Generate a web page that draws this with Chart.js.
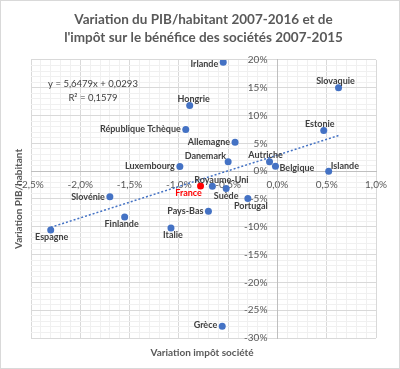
<!DOCTYPE html>
<html>
<head>
<meta charset="utf-8">
<script src="https://cdn.jsdelivr.net/npm/chart.js@4"></script>
<style>
  body { margin: 0; background: #fff; }
  canvas { display: block; }
</style>
</head>
<body>
<canvas id="chart" width="400" height="369"></canvas>
<script>
// pays, variation impot societe (%) et variation PIB/habitant (%)
const pays = ['Irlande', 'Slovaquie', 'Hongrie', 'République Tchèque', 'Estonie', 'Allemagne',
  'Danemark', 'Luxembourg', 'Autriche', 'Belgique', 'Islande', 'France', 'Royaume-Uni', 'Suède',
  'Portugal', 'Pays-Bas', 'Slovénie', 'Finlande', 'Italie', 'Espagne', 'Grèce'];
const impot = [-0.55, 0.62, -0.89, -0.93, 0.47, -0.43, -0.50, -0.99, -0.08, -0.02, 0.52, -0.78,
  -0.66, -0.52, -0.30, -0.70, -1.70, -1.55, -1.08, -2.30, -0.56];
const pib = [19.6, 15.0, 11.8, 7.5, 7.3, 5.2, 1.7, 0.85, 1.7, 0.9, 0.0, -2.65, -2.7, -3.1, -4.9,
  -7.2, -4.6, -8.25, -10.2, -10.6, -27.9];

// courbe de tendance
const trendX = [-2.30, 0.62];
const trendY = [-10.1, 6.4];
const equation = ['y = 5,6479x + 0,0293', 'R² = 0,1579'];

// where each label sits next to its point: [side, dx, dy]
const labelLayout = [
  ['left', 0, 2], ['above', -3, 0], ['above', 4, 0], ['left', 0, 0], ['above', -4, 0],
  ['left', 0, 0], ['left', 3, -6], ['left', 0, 0], ['above', -4, 0], ['right', 0, 2],
  ['right', -2, -5], ['below', -12, 0], ['above', 9, 0], ['below', 0, 0], ['below', 3, 0],
  ['left', 0, 0], ['left', 0, 0], ['below', -3, 0], ['below', 2, 0], ['below', 1, 0],
  ['left', 0, -1]
];

const BLUE = '#4472C4';
const RED = '#FF0000';
const FONT = 'Lato, "Open Sans", sans-serif';

const points = pays.map((p, i) => ({ x: impot[i], y: pib[i] }));
const trend = trendX.map((x, i) => ({ x: x, y: trendY[i] }));

const isMajorX = v => Math.abs(v * 2 - Math.round(v * 2)) < 1e-6;
const isMajorY = v => Math.abs(v / 5 - Math.round(v / 5)) < 1e-6;

const extras = {
  id: 'extras',
  beforeDraw(chart) {
    const c = chart.ctx;
    c.save();
    c.fillStyle = '#fff';
    c.fillRect(0, 0, chart.width, chart.height);
    c.restore();
  },
  afterDatasetsDraw(chart) {
    const c = chart.ctx;
    const meta = chart.getDatasetMeta(0);
    c.save();
    c.font = 'bold 9px ' + FONT;
    c.textBaseline = 'middle';
    meta.data.forEach((pt, i) => {
      const [side, dx, dy] = labelLayout[i];
      let x = pt.x, y = pt.y;
      if (side === 'left') { c.textAlign = 'right'; x -= 5; }
      else if (side === 'right') { c.textAlign = 'left'; x += 4; }
      else if (side === 'above') { c.textAlign = 'center'; y -= 6.5; }
      else { c.textAlign = 'center'; y += 7.3; }
      c.fillStyle = pays[i] === 'France' ? RED : '#404040';
      c.fillText(pays[i], x + dx, y + dy);
    });
    // equation de la tendance
    c.font = '9.5px ' + FONT;
    c.fillStyle = '#404040';
    c.textAlign = 'center';
    c.fillText(equation[0], 93, 84);
    c.fillText(equation[1], 93, 97.5);
    c.restore();
  },
  afterDraw(chart) {
    const c = chart.ctx;
    const a = chart.chartArea;
    c.save();
    c.fillStyle = '#595959';
    c.font = 'bold 10px ' + FONT;
    c.textAlign = 'center';
    c.textBaseline = 'middle';
    c.fillText('Variation impôt société', 202, 353);
    c.translate(19, (a.top + a.bottom) / 2);
    c.rotate(-Math.PI / 2);
    c.fillText('Variation PIB/habitant', 0, 0);
    c.restore();
    c.save();
    c.strokeStyle = '#d9d9d9';
    c.lineWidth = 1;
    c.strokeRect(0.5, 0.5, chart.width - 1, chart.height - 1);
    c.restore();
  }
};

new Chart(document.getElementById('chart'), {
  type: 'scatter',
  data: {
    datasets: [
      {
        label: 'Pays',
        data: points,
        order: 0,
        pointRadius: 3.5,
        pointHoverRadius: 3.5,
        pointBorderWidth: 0,
        pointBackgroundColor: ctx => pays[ctx.dataIndex] === 'France' ? RED : BLUE,
        pointBorderColor: ctx => pays[ctx.dataIndex] === 'France' ? RED : BLUE
      },
      {
        type: 'line',
        label: 'Tendance',
        data: trend,
        order: 1,
        borderColor: BLUE,
        borderWidth: 1.5,
        borderDash: [2, 2],
        pointRadius: 0,
        fill: false
      }
    ]
  },
  options: {
    responsive: false,
    animation: false,
    layout: { padding: { left: 31, right: 24, bottom: 31, top: 0 } },
    plugins: {
      legend: { display: false },
      tooltip: { enabled: false },
      title: {
        display: true,
        text: ['Variation du PIB/habitant 2007-2016 et de', "l'impôt sur le bénéfice des sociétés 2007-2015"],
        color: '#595959',
        font: { family: FONT, size: 13.5, weight: 'bold', lineHeight: 1.33 },
        padding: { top: 11, bottom: 13 }
      }
    },
    scales: {
      x: {
        type: 'linear',
        position: { y: 0 },
        min: -2.5,
        max: 1.0,
        ticks: {
          stepSize: 0.1,
          autoSkip: false,
          maxRotation: 0,
          padding: 8,
          color: '#595959',
          font: { family: FONT, size: 10 },
          callback: v => {
            if (!isMajorX(v)) return '';
            if (Math.abs(v) < 1e-9) v = 0;
            return v.toFixed(1).replace('.', ',') + '%';
          }
        },
        grid: {
          drawTicks: false,
          color: ctx => isMajorX(ctx.tick.value) ? '#d9d9d9' : '#f0f0f0'
        },
        border: { color: '#bfbfbf' }
      },
      y: {
        type: 'linear',
        position: { x: 0 },
        min: -30,
        max: 20,
        ticks: {
          stepSize: 1,
          autoSkip: false,
          color: '#595959',
          font: { family: FONT, size: 10 },
          // the centred axis puts labels flush against it, so keep a gap with two en spaces
          callback: v => isMajorY(v) ? Math.round(v) + '%\u2002\u2002' : ''
        },
        grid: {
          drawTicks: false,
          color: ctx => isMajorY(ctx.tick.value) ? '#d9d9d9' : '#f0f0f0'
        },
        border: { color: '#bfbfbf' }
      }
    }
  },
  plugins: [extras]
});
</script>
</body>
</html>
